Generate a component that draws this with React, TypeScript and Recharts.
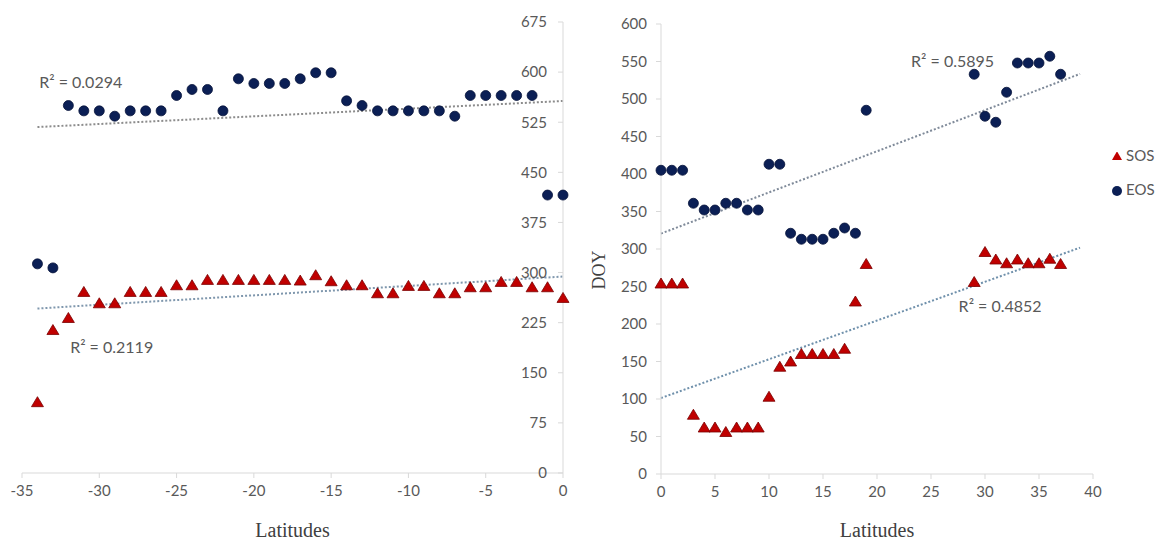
import React from 'react'
import {
  ScatterChart, Scatter, XAxis, YAxis, ReferenceLine, ReferenceDot, Legend
} from 'recharts'

// southern hemisphere (left panel)
const southLat = [
  -34, -33, -32, -31, -30, -29, -28, -27, -26, -25, -24, -23, -22, -21, -20, -19, -18,
  -17, -16, -15, -14, -13, -12, -11, -10, -9, -8, -7, -6, -5, -4, -3, -2, -1, 0
]
const southSOS = [
  106, 214, 232, 271, 254, 254, 271, 271, 271, 281, 281, 289, 289, 289, 289, 289, 289,
  288, 296, 287, 281, 281, 269, 269, 280, 280, 269, 269, 278, 278, 286, 286, 278, 278, 262
]
const southEOS = [
  313, 307, 550, 542, 542, 534, 542, 542, 542, 565, 574, 574, 542, 590, 583, 583, 583,
  590, 599, 599, 557, 550, 542, 542, 542, 542, 542, 534, 565, 565, 565, 565, 565, 416, 416
]

// northern hemisphere (right panel)
const northLat = [0, 1, 2, 3, 4, 5, 6, 7, 8, 9, 10, 11, 12, 13, 14, 15, 16, 17, 18, 19, 29, 30, 31, 32, 33, 34, 35, 36, 37]
const northSOS = [254, 254, 254, 79, 62, 62, 56, 62, 62, 62, 103, 143, 150, 160, 160, 160, 160, 167, 230, 280, 256, 296, 286, 281, 286, 281, 281, 287, 280]
const northEOS = [405, 405, 405, 361, 352, 352, 361, 361, 352, 352, 413, 413, 321, 313, 313, 313, 321, 328, 321, 485, 533, 477, 469, 509, 548, 548, 548, 557, 533]

const southTicksX = [-35, -30, -25, -20, -15, -10, -5, 0]
const southTicksY = [0, 75, 150, 225, 300, 375, 450, 525, 600, 675]
const northTicksX = [0, 5, 10, 15, 20, 25, 30, 35, 40]
const northTicksY = [0, 50, 100, 150, 200, 250, 300, 350, 400, 450, 500, 550, 600]

const toPoints = (xs: number[], ys: number[]) => xs.map((x, i) => ({ lat: x, doy: ys[i] }))

// least squares linear trendline, like excel's
const trend = (xs: number[], ys: number[], x0: number, x1: number) => {
  const n = xs.length
  const mx = xs.reduce((a, b) => a + b, 0) / n
  const my = ys.reduce((a, b) => a + b, 0) / n
  let sxy = 0
  let sxx = 0
  xs.forEach((x, i) => {
    sxy += (x - mx) * (ys[i] - my)
    sxx += (x - mx) * (x - mx)
  })
  const m = sxy / sxx
  const b = my - m * mx
  return [{ x: x0, y: m * x0 + b }, { x: x1, y: m * x1 + b }]
}

const RED = '#c00000'
const NAVY = '#0b1f55'
const AXIS = '#d9d9d9'
const TXT = '#595959'

const Tri = (p: any) => (
  <path
    d={`M${p.cx},${p.cy - 5.5}L${p.cx + 6},${p.cy + 4.5}L${p.cx - 6},${p.cy + 4.5}Z`}
    fill={RED}
    stroke="#7a0000"
    strokeWidth={0.8}
  />
)
const Dot = (p: any) => (
  <circle cx={p.cx} cy={p.cy} r={5} fill={NAVY} stroke="#06133a" strokeWidth={0.8} />
)

const tickStyle = { fill: TXT, fontSize: 15 }
const titleLabel = {
  value: 'Latitudes',
  position: 'insideBottom' as const,
  offset: 3,
  fill: '#404040',
  fontSize: 20,
  fontFamily: 'Liberation Serif'
}

const DoyLabel = () => (
  <text
    x={19}
    y={270}
    transform="rotate(-90 19 270)"
    textAnchor="middle"
    dominantBaseline="central"
    fill="#404040"
    fontSize={18}
    fontFamily="Liberation Serif"
  >
    DOY
  </text>
)

const legendOrder = (item: any) => (item.value === 'SOS' ? 0 : 1)

const App: React.FC = () => {
  const sSOS = toPoints(southLat, southSOS)
  const sEOS = toPoints(southLat, southEOS)
  const nSOS = toPoints(northLat, northSOS)
  const nEOS = toPoints(northLat, northEOS)

  return (
    <div style={{ position: 'absolute', left: 0, top: 0, width: 1164, height: 540, background: '#fff', fontFamily: 'Lato' }}>
      <div style={{ position: 'absolute', left: 0, top: 0 }}>
        <ScatterChart width={600} height={540} margin={{ top: 22, right: 37, bottom: 0, left: 22 }}>
          <XAxis
            type="number"
            dataKey="lat"
            domain={[-35, 0]}
            ticks={southTicksX}
            stroke={AXIS}
            tick={tickStyle}
            tickSize={5}
            tickMargin={7}
            height={67}
            label={titleLabel}
          />
          {/* y axis crosses at lat 0, labels sit inside the plot */}
          <YAxis
            type="number"
            dataKey="doy"
            orientation="right"
            mirror
            width={1}
            domain={[0, 675]}
            ticks={southTicksY}
            stroke={AXIS}
            tick={tickStyle}
            tickSize={5}
            tickMargin={11}
          />
          <Scatter data={sSOS} fill={RED} shape={Tri} isAnimationActive={false} />
          <Scatter data={sEOS} fill={NAVY} shape={Dot} isAnimationActive={false} />
          <ReferenceLine segment={trend(southLat, southEOS, -34, 0)} stroke="#8c8c8c" strokeWidth={2} strokeDasharray="2 2" />
          <ReferenceLine segment={trend(southLat, southSOS, -34, 0)} stroke="#7f97ad" strokeWidth={2} strokeDasharray="2 2" />
          <ReferenceDot x={-31.2} y={585} r={0} fill="none" stroke="none"
            label={{ value: 'R² = 0.0294', position: 'center', fill: TXT, fontSize: 16 }} />
          <ReferenceDot x={-29.2} y={188} r={0} fill="none" stroke="none"
            label={{ value: 'R² = 0.2119', position: 'center', fill: TXT, fontSize: 16 }} />
        </ScatterChart>
      </div>

      <div style={{ position: 'absolute', left: 580, top: 0 }}>
        <ScatterChart width={584} height={540} margin={{ top: 24, right: 71, bottom: 0, left: 0 }}>
          <XAxis
            type="number"
            dataKey="lat"
            domain={[0, 40]}
            ticks={northTicksX}
            stroke={AXIS}
            tick={tickStyle}
            tickSize={5}
            tickMargin={7}
            height={66}
            label={titleLabel}
          />
          <YAxis
            type="number"
            dataKey="doy"
            width={81}
            domain={[0, 600]}
            ticks={northTicksY}
            stroke={AXIS}
            tick={tickStyle}
            tickSize={5}
            tickMargin={9}
            label={DoyLabel}
          />
          <Scatter name="SOS" data={nSOS} fill={RED} shape={Tri} legendType="triangle" isAnimationActive={false} />
          <Scatter name="EOS" data={nEOS} fill={NAVY} shape={Dot} legendType="circle" isAnimationActive={false} />
          <ReferenceLine segment={trend(northLat, northEOS, 0, 38.8)} stroke="#7f8a99" strokeWidth={2} strokeDasharray="2 2" />
          <ReferenceLine segment={trend(northLat, northSOS, 0, 38.8)} stroke="#6f90ab" strokeWidth={2} strokeDasharray="2 2" />
          <ReferenceDot x={27} y={550} r={0} fill="none" stroke="none"
            label={{ value: 'R² = 0.5895', position: 'center', fill: TXT, fontSize: 16 }} />
          <ReferenceDot x={31.4} y={224} r={0} fill="none" stroke="none"
            label={{ value: 'R² = 0.4852', position: 'center', fill: TXT, fontSize: 16 }} />
          <Legend
            layout="vertical"
            align="center"
            verticalAlign="middle"
            iconSize={10}
            itemSorter={legendOrder}
            wrapperStyle={{ left: 532, top: 138, width: 'auto', lineHeight: '34px', fontSize: 15 }}
            formatter={(v: string) => <span style={{ color: TXT }}>{v}</span>}
          />
        </ScatterChart>
      </div>
    </div>
  )
}

export default App
